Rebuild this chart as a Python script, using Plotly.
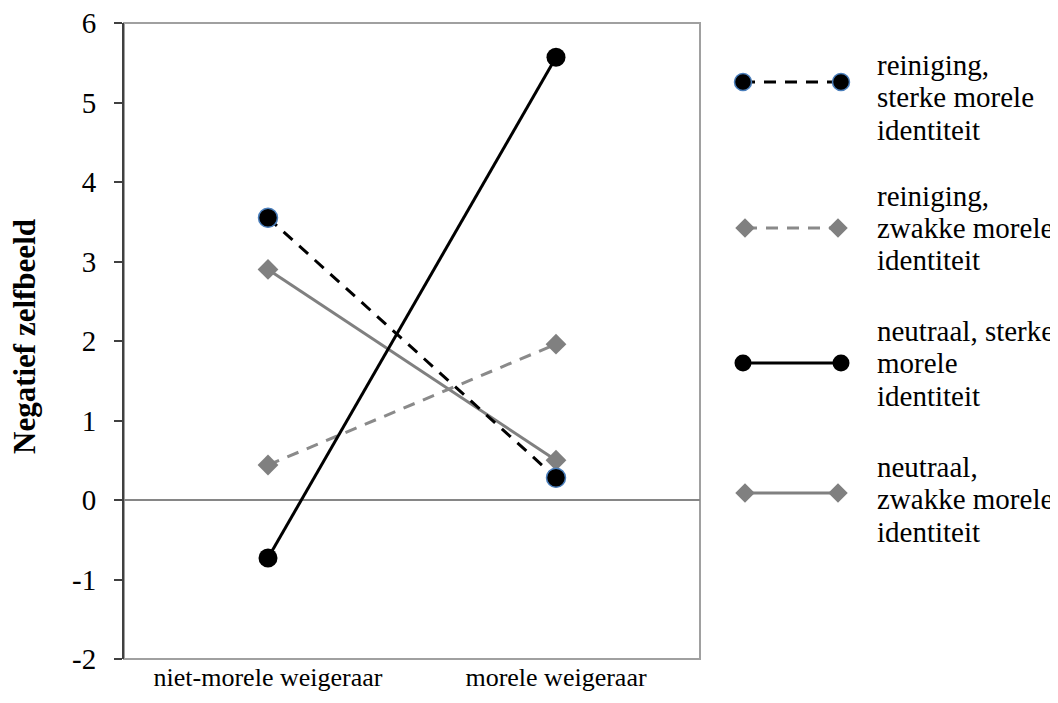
import plotly.graph_objects as go

# window size and body-margin offset of the page
WIN_W, WIN_H = 1058, 703
OFF = 8
W, H = WIN_W - OFF, WIN_H - OFF

categories = ["niet-morele weigeraar", "morele weigeraar"]
series_names = [
    "reiniging, sterke morele identiteit",
    "reiniging, zwakke morele identiteit",
    "neutraal, sterke morele identiteit",
    "neutraal, zwakke morele identiteit",
]
reiniging_sterk = [3.55, 0.28]
reiniging_zwak = [0.44, 1.96]
neutraal_sterk = [-0.73, 5.57]
neutraal_zwak = [2.90, 0.50]

y_tickvals = [-2, -1, 0, 1, 2, 3, 4, 5, 6]
y_ticktext = ["-2", "-1", "0", "1", "2", "3", "4", "5", "6"]

legend_lines = [
    ["reiniging,", "sterke morele", "identiteit"],
    ["reiniging,", "zwakke morele", "identiteit"],
    ["neutraal, sterke", "morele", "identiteit"],
    ["neutraal,", "zwakke morele", "identiteit"],
]

FONT = "Liberation Serif"
BLACK = "#000000"
GRAY = "#808080"


def px(x):
    return (x - OFF) / W


def py(y):
    return 1 - (y - OFF) / H


styles = [
    dict(line=dict(color=BLACK, width=3, dash="12px,9px"),
         marker=dict(symbol="circle", size=19, color=BLACK, line=dict(color="#4a7ebb", width=1.5))),
    dict(line=dict(color="#8a8a8a", width=3, dash="12px,9px"),
         marker=dict(symbol="diamond", size=16, color=GRAY, line=dict(width=0))),
    dict(line=dict(color=BLACK, width=3),
         marker=dict(symbol="circle", size=19, color=BLACK, line=dict(width=0))),
    dict(line=dict(color=GRAY, width=3),
         marker=dict(symbol="diamond", size=16, color=GRAY, line=dict(width=0))),
]
data = [reiniging_sterk, reiniging_zwak, neutraal_sterk, neutraal_zwak]
order = [3, 1, 2, 0]

fig = go.Figure()
xpos = list(range(len(categories)))
for i in order:
    fig.add_trace(go.Scatter(
        x=xpos, y=data[i], mode="lines+markers", name=series_names[i],
        line=styles[i]["line"], marker=styles[i]["marker"], showlegend=False,
        xaxis="x", yaxis="y",
    ))

# custom legend (window pixel coordinates)
sample_y = [82, 228, 363, 493]
text_mid = [97, 228, 363, 499]
line_gap = 32.5
for i in range(4):
    sty = styles[i]
    lw = dict(sty["line"])
    lm = dict(sty["marker"])
    x0, x1 = (743, 841) if lm["symbol"] == "circle" else (745, 838)
    fig.add_trace(go.Scatter(
        x=[x0 - OFF, x1 - OFF], y=[sample_y[i] - OFF, sample_y[i] - OFF], mode="lines+markers",
        line=lw, marker=dict(lm, size=lm["size"] - 2 if lm["symbol"] == "circle" else lm["size"] - 1),
        showlegend=False, xaxis="x2", yaxis="y2", hoverinfo="skip",
    ))
    for j, txt in enumerate(legend_lines[i]):
        yc = text_mid[i] + (j - 1) * line_gap
        fig.add_annotation(
            x=px(875), y=py(yc), xref="paper", yref="paper",
            text=txt, showarrow=False, xanchor="left", yanchor="middle",
            font=dict(family=FONT, size=29),
        )

# y-axis title
fig.add_annotation(
    x=px(24), y=py(337), xref="paper", yref="paper", textangle=-90,
    text="<b>Negatief zelfbeeld</b>", showarrow=False, xanchor="center", yanchor="middle",
    font=dict(family=FONT, size=31),
)

L, R, T, B = 124, 700, 23, 659
fig.update_layout(
    template="none",
    width=W, height=H,
    margin=dict(l=0, r=0, t=0, b=0, pad=0, autoexpand=False),
    paper_bgcolor="white", plot_bgcolor="rgba(0,0,0,0)",
    font=dict(family=FONT, color=BLACK),
    xaxis=dict(
        domain=[px(L), px(R)], range=[-0.5, 1.5], automargin=False,
        tickvals=xpos, ticktext=categories, ticks="",
        tickfont=dict(family=FONT, size=26),
        ticklabeloverflow="allow",
        showgrid=False, zeroline=False, showline=False,
        fixedrange=True, anchor="y",
    ),
    yaxis=dict(
        domain=[py(B), py(T)], range=[-2, 6], automargin=False,
        tickvals=y_tickvals, ticktext=y_ticktext,
        ticks="outside", ticklen=8, tickwidth=1.5, tickcolor="#404040",
        tickfont=dict(family=FONT, size=29),
        ticklabelstandoff=12, ticklabeloverflow="allow",
        showgrid=False, zeroline=True, zerolinecolor="#868686", zerolinewidth=2,
        showline=True, linecolor="#404040", linewidth=2,
        fixedrange=True, anchor="x",
    ),
    xaxis2=dict(domain=[0, 1], range=[0, W], visible=False, anchor="y2", fixedrange=True, automargin=False),
    yaxis2=dict(domain=[0, 1], range=[H, 0], visible=False, anchor="x2", fixedrange=True, automargin=False),
)
fig.add_shape(type="rect", xref="x domain", yref="y domain", x0=0, x1=1, y0=0, y1=1,
              line=dict(color="#a0a0a0", width=2), layer="below")

fig.write_html("out.html")
